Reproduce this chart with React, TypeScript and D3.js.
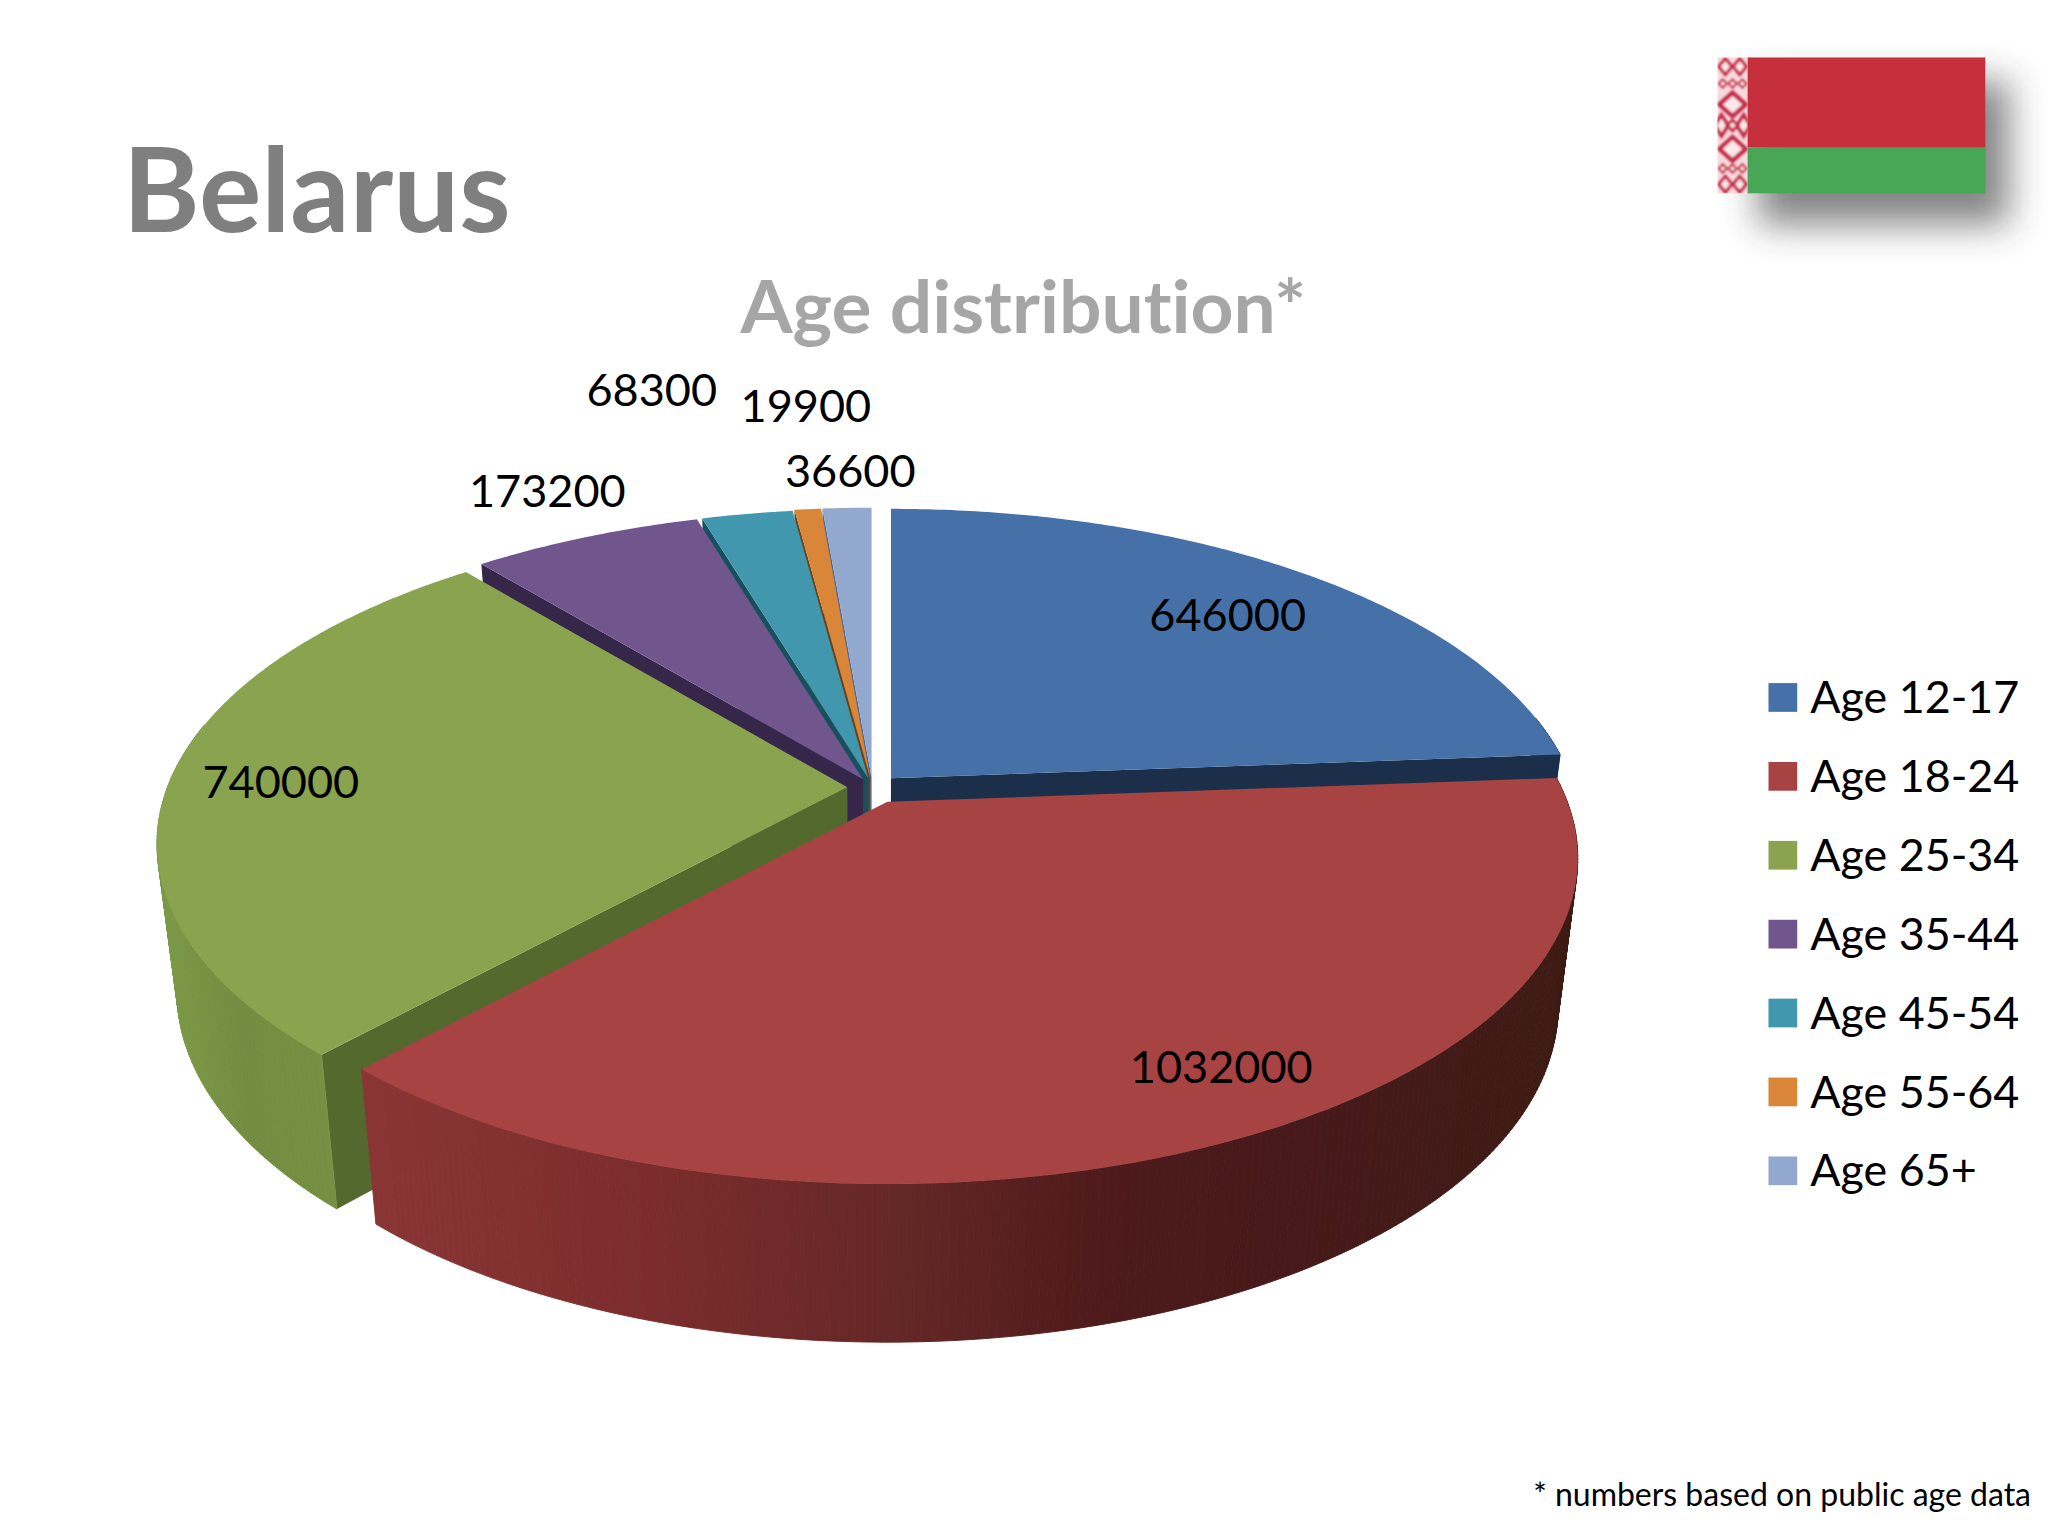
import * as d3 from "d3";

const ageGroups = ["Age 12-17", "Age 18-24", "Age 25-34", "Age 35-44", "Age 45-54", "Age 55-64", "Age 65+"];
const population = [646000, 1032000, 740000, 173200, 68300, 19900, 36600];

const topColors = ["#4571a8", "#a84343", "#8aa34f", "#71568e", "#4197ae", "#d98639", "#92a8ce"];
const cutColors = ["#1b2f4b", "#4a1a1a", "#54692e", "#35264a", "#16505f", "#6e4216", "#4d6a96"];
// how far each slice is pulled out of the pie, as a share of the radius
const explode = [0.04, 0.05, 0.037, 0.03, 0.03, 0.033, 0.033];
// far slices first, so the near ones cover them
const drawOrder = [6, 5, 4, 3, 0, 2, 1];

const labelAnchors: [number, number][] = [
  [940, 483], [935, 829], [215, 611], [419, 388], [499, 311], [617, 323], [651, 373],
];

const FONT = "Lato, 'Open Sans', sans-serif";
const W = 1568;
const H = 1176;

// pie plane to screen, with a bit of perspective
const cx = 668;
const cy = 603;
const radiusX = 520.6;
const radiusY = 242;
const persp = 0.173;
const wallDepth = 112;

type Pt = [number, number];

function rim(theta: number, ox: number, oy: number): Pt {
  const s = Math.sin(theta);
  const c = Math.cos(theta);
  const d = 1 + persp * c;
  return [ox + (radiusX * s) / d, oy - (radiusY * c) / d];
}

// same point on the bottom face of the disc
function lower([x, y]: Pt): Pt {
  return [cx + (x - cx) * 0.972, cy + (y - cy) * 1.03 + wallDepth];
}

const redShade = d3
  .scaleLinear<string>()
  .domain([280, 500, 680, 850, 1000, 1200])
  .range(["#8a3535", "#7b2c2c", "#652826", "#4e1a1b", "#47191a", "#3e1b14"])
  .clamp(true);

const greenShade = d3
  .scaleLinear<string>()
  .domain([125, 180, 255])
  .range(["#7b9846", "#748c41", "#778f42"])
  .clamp(true);

const wallShade: Record<number, (x: number) => string> = {
  1: (x) => redShade(x),
  2: (x) => greenShade(x),
};

const pieGen = d3.pie<number>().sort(null);
const arcs = pieGen(population);
const toPath = d3.line<Pt>();

function Slice({ index }: { index: number }) {
  const a = arcs[index];
  const mid = (a.startAngle + a.endAngle) / 2;
  const ox = cx + explode[index] * radiusX * Math.sin(mid);
  const oy = cy - explode[index] * radiusY * Math.cos(mid);
  const step = Math.PI / 300;
  const thetas = [...d3.range(a.startAngle, a.endAngle, step), a.endAngle];
  const edge = thetas.map((t) => rim(t, ox, oy));
  const apex: Pt = [ox, oy];
  const first = edge[0];
  const last = edge[edge.length - 1];
  const shade = wallShade[index] ?? (() => cutColors[index]);
  // cut faces only show when they turn towards the viewer
  const showStart = Math.sin(a.startAngle) < -0.01;
  const showEnd = Math.sin(a.endAngle) > 0.01;

  return (
    <g>
      {showStart && <path d={toPath([apex, first, lower(first), lower(apex)]) + "Z"} fill={cutColors[index]} />}
      {showEnd && <path d={toPath([apex, last, lower(last), lower(apex)]) + "Z"} fill={cutColors[index]} />}
      {edge.slice(1).map((p, i) => {
        if (Math.cos(thetas[i]) > 0.2) return null;
        const q = edge[i];
        const fill = shade((p[0] + q[0]) / 2);
        return (
          <path
            key={i}
            d={toPath([q, p, lower(p), lower(q)]) + "Z"}
            fill={fill}
            stroke={fill}
            strokeWidth={0.7}
          />
        );
      })}
      <path d={toPath([apex, ...edge]) + "Z"} fill={topColors[index]} />
    </g>
  );
}

// hoist ornament of the flag: centre x, centre y, half width, half height, stroke width
const ornament: [number, number, number, number, number][] = [
  [6, 7, 5, 6, 2.4], [17, 7, 5, 6, 2.4],
  [4, 20, 3, 3, 1.6], [11.5, 20, 3, 3, 1.6], [19, 20, 3, 3, 1.6],
  [11.5, 36, 10, 9, 3.4], [3, 52, 5, 8, 2.8], [20, 52, 5, 8, 2.8], [11.5, 52, 4, 4, 2.2],
  [11.5, 70, 10, 9, 3.4],
  [4, 85, 3, 3, 1.6], [11.5, 85, 3, 3, 1.6], [19, 85, 3, 3, 1.6],
  [6, 97, 5, 6, 2.4], [17, 97, 5, 6, 2.4],
];

function Flag() {
  const x0 = 1315;
  const x1 = 1338;
  const x2 = 1520;
  const y0 = 44;
  const y1 = 113;
  const y2 = 148;
  return (
    <g>
      <defs>
        <filter id="flag-shadow" x="-40%" y="-60%" width="180%" height="220%">
          <feGaussianBlur stdDeviation="14" />
        </filter>
        <filter id="soft" x="-20%" y="-10%" width="140%" height="120%">
          <feGaussianBlur stdDeviation="0.8" />
        </filter>
        <clipPath id="hoist">
          <rect x={x0} y={y0} width={x1 - x0} height={y2 - y0} />
        </clipPath>
      </defs>
      <rect
        x={x1 + 8}
        y={y0 + 18}
        width={x2 - x1 + 10}
        height={y2 - y0 + 6}
        fill="#333"
        opacity={0.6}
        filter="url(#flag-shadow)"
      />
      <rect x={x0} y={y0} width={x1 - x0} height={y2 - y0} fill="#f7dadd" />
      <g clipPath="url(#hoist)">
        <g filter="url(#soft)">
          {ornament.map(([dx, dy, rx, ry, sw], i) => {
            const xc = x0 + dx;
            const yc = y0 + dy;
            return (
              <path
                key={i}
                d={`M${xc - rx},${yc}L${xc},${yc - ry}L${xc + rx},${yc}L${xc},${yc + ry}Z`}
                fill="#fbe8e9"
                stroke="#c42d4b"
                strokeWidth={sw}
              />
            );
          })}
        </g>
      </g>
      <rect x={x1} y={y0} width={x2 - x1} height={y1 - y0} fill="#c6303c" />
      <rect x={x1} y={y1} width={x2 - x1} height={y2 - y1} fill="#4aa657" />
    </g>
  );
}

export default function App() {
  return (
    <svg
      width={2048}
      height={1536}
      viewBox={`0 0 ${W} ${H}`}
      style={{ position: "absolute", left: 0, top: 0, background: "#fff", fontVariantLigatures: "none" }}
      fontFamily={FONT}
    >
      <text x={94} y={178} fontSize={89.5} fontWeight={700} fill="#7f7f7f">
        Belarus
      </text>
      <text x={567} y={255} fontSize={56} fontWeight={700} fill="#a6a6a6" textLength={433} lengthAdjust="spacingAndGlyphs">
        Age distribution*
      </text>

      <Flag />

      {drawOrder.map((i) => (
        <Slice key={i} index={i} />
      ))}

      {population.map((v, i) => (
        <text key={i} x={labelAnchors[i][0]} y={labelAnchors[i][1]} fontSize={34.5} textAnchor="middle" fill="#000">
          {v}
        </text>
      ))}

      {ageGroups.map((g, i) => {
        const y = 534 + i * 60.4;
        return (
          <g key={g}>
            <rect x={1354} y={y - 11} width={22} height={22} fill={topColors[i]} />
            <text x={1386} y={y + 12} fontSize={34.3} fill="#000">
              {g}
            </text>
          </g>
        );
      })}

      <text x={1555} y={1153} fontSize={24.5} textAnchor="end" fill="#000">
        * numbers based on public age data
      </text>
    </svg>
  );
}
